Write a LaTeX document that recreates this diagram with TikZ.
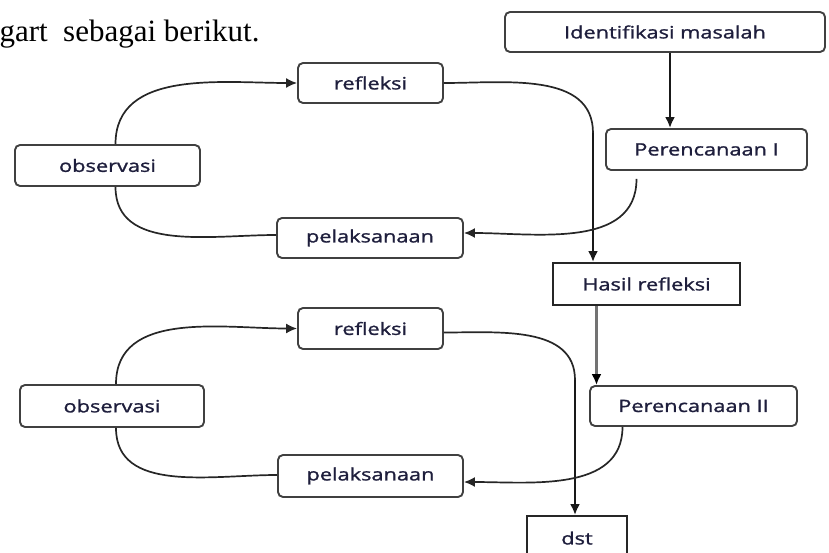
\documentclass[tikz,border=0pt]{standalone}
\usepackage{fontspec}
\usepackage{tikz}
\usetikzlibrary{arrows.meta}
\newfontfamily\boxfont[FakeStretch=1.28,FakeBold=1.3]{Open Sans}
\newfontfamily\bodyfont{Liberation Serif}
\definecolor{lbl}{RGB}{30,30,60}

\begin{document}
\begin{tikzpicture}[x=1pt,y=-1pt,>={Latex[length=11pt,width=10pt]},
  box/.style={draw=black!75,line width=1.9pt,rounded corners=5pt,text=lbl,
    font=\boxfont\fontsize{17}{20}\selectfont},
  sbox/.style={draw=black!85,line width=1.9pt,text=lbl,
    font=\boxfont\fontsize{17}{20}\selectfont},
  cline/.style={line width=1.7pt,black!85},
  vline/.style={line width=2.4pt,black!90}]
\useasboundingbox (0,0) rectangle (829,553);
\clip (0,0) rectangle (829,553);

\node [anchor=base west,font=\bodyfont\fontsize{31}{36}\selectfont] (txt) at (-4,42) {gart~ sebagai berikut.};

\node [box,minimum width=320pt,minimum height=40pt] (idm) at (665,32) {Identifikasi masalah};
\node [box,minimum width=201pt,minimum height=41pt] (ren1) at (706.5,149.5) {Perencanaan I};
\node [box,minimum width=145pt,minimum height=40pt] (ref1) at (370.5,83) {refleksi};
\node [box,minimum width=185pt,minimum height=41pt] (obs1) at (107.5,165.5) {observasi};
\node [box,minimum width=186pt,minimum height=40pt] (pel1) at (370,238) {pelaksanaan};
\node [sbox,minimum width=187pt,minimum height=42pt] (hasil) at (646.5,284) {Hasil refleksi};

\node [box,minimum width=145pt,minimum height=41pt] (ref2) at (370.5,328.5) {refleksi};
\node [box,minimum width=184pt,minimum height=42pt] (obs2) at (112,406) {observasi};
\node [box,minimum width=185pt,minimum height=42pt] (pel2) at (370.5,476) {pelaksanaan};
\node [box,minimum width=207pt,minimum height=40pt] (ren2) at (693.5,406) {Perencanaan II};
\node [sbox,minimum width=100pt,minimum height=48pt,text depth=0pt] (dst) at (577,540) {\raisebox{4pt}{dst}};

\coordinate (k1) at (593,133);
\coordinate (k2) at (575,380);

% siklus I
\draw [vline,->] ([xshift=5pt]idm.south) -- ([xshift=5pt]idm.south |- ren1.north);
\draw [cline,->] ([xshift=8pt]obs1.north) to[out=90,in=180] (ref1.west);
\draw [cline] ([xshift=8pt]obs1.south) to[out=-90,in=180] ([yshift=3pt]pel1.west);
\draw [cline] (ref1.east) to[out=0,in=90] (k1);
\draw [vline,->] (k1) -- (k1 |- hasil.north);
\draw [cline,->] ([xshift=-70pt,yshift=-8pt]ren1.south) to[out=-90,in=0] ([yshift=5pt]pel1.east);

% siklus II
\draw [vline,black!55,-{Latex[length=11pt,width=10pt,fill=black,color=black]}] ([xshift=-50pt]hasil.south) -- ([xshift=-50pt]hasil.south |- ren2.north);
\draw [cline,->] ([xshift=4pt]obs2.north) to[out=90,in=180] (ref2.west);
\draw [cline] ([xshift=4pt]obs2.south) to[out=-90,in=180] ([yshift=1pt]pel2.west);
\draw [cline] ([yshift=-4pt]ref2.east) to[out=0,in=90] (k2);
\draw [vline,->] (k2) -- (k2 |- dst.north);
\draw [cline,->] ([xshift=-71pt]ren2.south) to[out=-90,in=0] ([yshift=-6pt]pel2.east);
\end{tikzpicture}
\end{document}
